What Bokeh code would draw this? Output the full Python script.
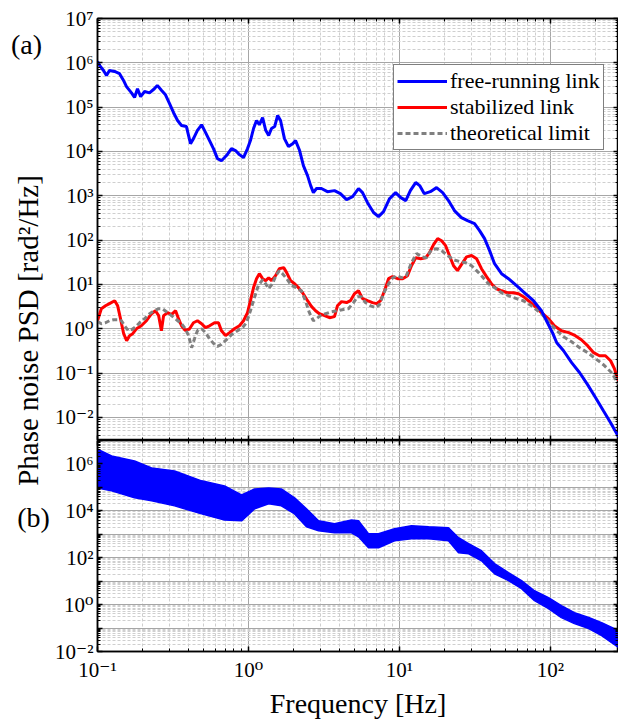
import math
from bokeh.plotting import figure
from bokeh.models import (Range1d, LogAxis, FixedTicker, CustomJSTickFormatter,
                          Legend, LegendItem, Label)
from bokeh.layouts import row, column
from bokeh.embed import file_html
from bokeh.resources import INLINE

FONT = "Liberation Serif, Times New Roman, DejaVu Serif, serif"

# ---------------- data: panel (a) ----------------
free_f = [0.100, 0.1047, 0.1096, 0.1147, 0.120, 0.1297, 0.140, 0.1487, 0.1556, 0.168, 0.176, 0.184,
          0.193, 0.205, 0.221, 0.238, 0.249, 0.265, 0.282, 0.300, 0.319, 0.339, 0.360, 0.388, 0.413,
          0.432, 0.459, 0.489, 0.519, 0.552, 0.586, 0.623, 0.662, 0.715, 0.771, 0.820, 0.871, 0.927,
          0.985, 1.03, 1.08, 1.13, 1.18, 1.24, 1.30, 1.36, 1.42, 1.49, 1.56, 1.63, 1.73, 1.84, 1.96,
          2.05, 2.18, 2.31, 2.46, 2.58, 2.69, 2.82, 3.04, 3.33, 3.71, 4.06, 4.46, 4.89, 5.35, 5.69,
          6.14, 6.73, 7.26, 7.84, 8.59, 9.42, 10.2, 11.0, 11.8, 12.8, 13.6, 14.6, 16.0, 17.6, 19.3,
          21.1, 23.1, 25.7, 28.2, 31.4, 33.9, 36.6, 39.5, 42.6, 47.4, 52.7, 59.6, 67.3, 77.1, 87.1,
          95.5, 103, 110, 122, 138, 156, 176, 199, 224, 250, 282]
free_psd = [1.07e6, 8.2e5, 6.7e5, 5.2e5, 6.7e5, 6.4e5, 5.7e5, 4.0e5, 2.9e5, 2.1e5, 1.65e5, 2.6e5,
            1.73e5, 2.25e5, 2.1e5, 2.6e5, 3.1e5, 2.4e5, 1.9e5, 1.2e5, 7.5e4, 5.0e4, 3.85e4, 3.65e4,
            1.5e4, 1.95e4, 3.0e4, 4.0e4, 2.7e4, 1.76e4, 1.16e4, 6.9e3, 6.2e3, 8.1e3, 1.16e4, 1.05e4,
            8.5e3, 7.3e3, 1.16e4, 1.76e4, 3.3e4, 5.0e4, 4.0e4, 5.8e4, 3.0e4, 2.3e4, 3.3e4, 3.65e4,
            6.5e4, 5.0e4, 1.95e4, 1.29e4, 1.5e4, 1.76e4, 1.05e4, 4.8e3, 2.86e3, 1.7e3, 1.18e3, 1.46e3,
            1.46e3, 1.24e3, 1.31e3, 1.12e3, 820, 960, 1.46e3, 1.18e3, 700, 420, 340, 440, 860, 1.18e3,
            910, 780, 1.31e3, 1.99e3, 1.7e3, 1.12e3, 1.24e3, 1.53e3, 1.18e3, 780, 464, 322, 275, 236,
            164, 108, 58, 29.4, 17.5, 13.5, 9.4, 6.5, 4.3, 2.56, 1.37, 0.82, 0.485, 0.32, 0.172,
            0.102, 0.055, 0.0279, 0.0142, 0.0076, 0.00367]

stab_f = [0.100, 0.106, 0.113, 0.120, 0.130, 0.136, 0.142, 0.149, 0.156, 0.163, 0.171, 0.181, 0.195,
          0.211, 0.228, 0.242, 0.254, 0.265, 0.274, 0.291, 0.309, 0.329, 0.344, 0.360, 0.382, 0.407,
          0.432, 0.459, 0.489, 0.519, 0.552, 0.596, 0.633, 0.662, 0.705, 0.749, 0.807, 0.871, 0.927,
          0.985, 1.03, 1.08, 1.13, 1.18, 1.24, 1.30, 1.36, 1.42, 1.51, 1.60, 1.71, 1.79, 1.90, 2.02,
          2.14, 2.28, 2.46, 2.61, 2.78, 2.95, 3.19, 3.44, 3.71, 3.88, 4.13, 4.46, 4.73, 5.03, 5.35,
          5.69, 6.14, 6.62, 7.04, 7.48, 7.96, 8.46, 8.99, 9.71, 10.5, 11.3, 12.0, 12.8, 13.8, 14.9,
          15.8, 16.8, 17.9, 19.0, 20.2, 21.4, 22.8, 24.2, 25.7, 27.8, 30.0, 32.4, 34.9, 37.7, 40.6,
          43.9, 47.4, 51.9, 56.8, 61.4, 66.2, 71.5, 78.3, 87.1, 97.0, 106, 118, 132, 146, 160, 176,
          193, 211, 231, 250, 265, 282]
stab_psd = [1.52, 2.84, 3.3, 3.7, 4.3, 3.3, 1.69, 0.775, 0.54, 0.70, 0.775, 1.0, 1.17, 1.52, 2.19,
            2.56, 1.98, 0.906, 1.98, 2.31, 2.08, 2.56, 1.69, 1.17, 0.906, 1.0, 1.37, 1.52, 1.30, 1.06,
            1.17, 1.37, 1.37, 0.906, 0.70, 0.82, 1.0, 1.17, 1.52, 2.31, 4.3, 8.5, 13.5, 17.5, 13.5,
            12.2, 14.2, 12.2, 15.8, 22.7, 24.0, 18.5, 12.2, 10.4, 8.5, 6.5, 4.3, 3.2, 2.56, 2.19, 1.98,
            1.78, 1.88, 3.3, 4.1, 3.9, 4.3, 6.2, 7.2, 4.78, 4.3, 3.9, 3.7, 4.3, 7.2, 13.5, 15.0, 13.5,
            13.5, 15.8, 26.5, 40.0, 38.0, 40.0, 52.0, 79.0, 108, 97.0, 75.0, 45.0, 26.5, 20.5, 28.0,
            42.0, 45.0, 38.0, 22.7, 15.0, 10.4, 8.0, 7.2, 6.5, 6.5, 6.2, 5.3, 4.3, 3.3, 2.31, 1.69,
            1.17, 0.906, 0.82, 0.70, 0.567, 0.416, 0.289, 0.247, 0.247, 0.19, 0.126, 0.067]

theo_f = [0.100, 0.106, 0.113, 0.120, 0.128, 0.136, 0.144, 0.153, 0.160, 0.168, 0.179, 0.190, 0.205,
          0.221, 0.238, 0.254, 0.269, 0.286, 0.309, 0.334, 0.360, 0.382, 0.401, 0.420, 0.439, 0.459,
          0.489, 0.519, 0.552, 0.586, 0.623, 0.662, 0.715, 0.771, 0.846, 0.912, 0.970, 1.03, 1.10,
          1.16, 1.24, 1.30, 1.36, 1.44, 1.53, 1.60, 1.68, 1.79, 1.93, 2.08, 2.24, 2.38, 2.53, 2.69,
          2.82, 3.00, 3.24, 3.55, 3.88, 4.26, 4.59, 4.96, 5.27, 5.60, 5.95, 6.43, 6.93, 7.37, 7.84,
          8.33, 8.86, 9.56, 10.3, 11.1, 12.0, 13.0, 14.0, 15.1, 16.3, 17.6, 19.0, 20.8, 22.8, 25.0,
          27.4, 30.0, 32.4, 34.9, 38.8, 42.6, 47.4, 52.7, 59.6, 66.2, 74.8, 87.1, 98.4, 110, 122,
          138, 156, 176, 199, 224, 254, 282]
theo_psd = [1.45, 1.30, 1.37, 1.52, 1.60, 1.60, 1.52, 1.11, 0.906, 0.955, 1.11, 1.37, 1.69, 2.19,
            2.56, 2.84, 2.84, 2.43, 1.98, 1.60, 1.30, 1.0, 0.70, 0.374, 0.597, 0.906, 1.0, 0.82, 0.597,
            0.468, 0.40, 0.445, 0.567, 0.736, 0.906, 1.06, 1.37, 2.56, 5.3, 9.4, 12.8, 10.4, 8.0,
            10.4, 16.6, 20.5, 17.5, 13.5, 9.4, 8.5, 7.2, 4.3, 2.31, 1.52, 1.69, 1.98, 2.19, 2.43, 2.56,
            2.73, 2.84, 3.9, 5.3, 5.3, 3.9, 3.3, 3.0, 3.5, 6.2, 9.4, 13.5, 15.8, 14.2, 15.8, 31.0,
            50.0, 42.0, 40.0, 61.0, 64.0, 58.0, 45.0, 36.0, 33.0, 31.0, 26.5, 20.5, 15.8, 10.4, 8.5,
            6.5, 5.6, 4.78, 4.3, 3.3, 2.19, 1.37, 0.906, 0.66, 0.51, 0.374, 0.289, 0.211, 0.155,
            0.102, 0.057]

# ---------------- data: panel (b) (envelope of the ensemble) ----------------
ens_f = [0.100, 0.124, 0.176, 0.228, 0.324, 0.489, 0.694, 0.899, 1.10, 1.36, 1.65, 2.02, 2.42, 2.91,
         3.71, 4.81, 5.35, 6.23, 7.26, 9.27, 12.0, 15.6, 21.1, 24.6, 28.7, 34.9, 42.6, 52.7, 64.3,
         78.3, 97.0, 118, 144, 179, 218, 282]
ens_upper = [4.3e6, 2.2e6, 1.34e6, 6.8e5, 5.0e5, 1.9e5, 1.16e5, 4.8e4, 8.6e4, 9.5e4, 8.6e4, 3.6e4,
             1.22e4, 3.75e3, 2.8e3, 4.1e3, 3.75e3, 1.05e3, 1.05e3, 1.71e3, 2.3e3, 2.08e3, 1.89e3,
             710, 395, 199, 56, 23, 10.5, 3.9, 1.99, 0.91, 0.457, 0.28, 0.171, 0.078]
ens_lower = [9.5e4, 7.1e4, 3.6e4, 2.67e4, 1.63e4, 7.4e3, 4.1e3, 3.75e3, 1.22e4, 1.99e4, 1.63e4,
             7.4e3, 2.08e3, 1.41e3, 1.16e3, 1.16e3, 780, 267, 267, 530, 640, 640, 530, 163, 148,
             74, 20.8, 10.5, 4.8, 1.48, 0.676, 0.28, 0.155, 0.095, 0.048, 0.0148]

# ---------------- axes ticks ----------------
x_decades = [0.1, 1, 10, 100]
ya_decades = [1e-2, 1e-1, 1e0, 1e1, 1e2, 1e3, 1e4, 1e5, 1e6, 1e7]
yb_decades = [1e-2, 1e-1, 1e0, 1e1, 1e2, 1e3, 1e4, 1e5, 1e6, 1e7]


def minors(decs, lo, hi):
    out = []
    for d in decs + [decs[0] / 10.0]:
        for k in range(2, 10):
            v = d * k
            if lo <= v <= hi:
                out.append(v)
    return sorted(out)


X_LO, X_HI = 0.1, 282.0
YA_LO, YA_HI = 10 ** -2.52, 1e7
YB_LO, YB_HI = 1e-2, 1e7

SUP_JS = """
const sup = {'0':'\u2070','1':'\u00b9','2':'\u00b2','3':'\u00b3','4':'\u2074','5':'\u2075',
             '6':'\u2076','7':'\u2077','8':'\u2078','9':'\u2079','-':'\u207b'};
const e = Math.round(Math.log10(tick));
if (MODE === 2) { return ''; }
if (MODE === 1 && (e % 2 !== 0)) { return ''; }
return '10' + String(e).split('').map(c => sup[c]).join('');
"""


def fmt(mode=0):
    return CustomJSTickFormatter(code=SUP_JS.replace("MODE", str(mode)))


def style_axis(ax, show_labels, ticker, formatter):
    ax.ticker = ticker
    ax.formatter = formatter
    ax.axis_line_color = "black"
    ax.axis_line_width = 1.5
    ax.major_tick_in = 5
    ax.major_tick_out = 0
    ax.minor_tick_in = 3
    ax.minor_tick_out = 0
    ax.major_tick_line_color = "black"
    ax.minor_tick_line_color = "black"
    ax.major_tick_line_width = 1.5
    ax.minor_tick_line_width = 1
    ax.major_label_text_font = FONT
    ax.major_label_text_color = "black"
    if show_labels:
        ax.major_label_text_font_size = "21px"
        ax.major_label_standoff = 4
    else:
        ax.major_label_text_font_size = "1px"
        ax.major_label_standoff = 0


def make_panel(y_lo, y_hi, y_decs, frame_h, border_top, border_bottom, x_labels, only_even):
    p = figure(x_axis_type="log", y_axis_type="log",
               x_range=x_range, y_range=Range1d(y_lo, y_hi),
               frame_width=521, frame_height=frame_h,
               min_border_left=44, min_border_right=0,
               min_border_top=border_top, min_border_bottom=border_bottom,
               toolbar_location=None, output_backend="svg",
               background_fill_color="white", border_fill_color="white")
    xminor = minors(x_decades, X_LO, X_HI)
    yminor = minors(y_decs, y_lo, y_hi)
    bottom_ax = p.below[0]
    left_ax = p.left[0]
    style_axis(bottom_ax, x_labels, FixedTicker(ticks=x_decades, minor_ticks=xminor),
               fmt(0 if x_labels else 2))
    style_axis(left_ax, True, FixedTicker(ticks=y_decs, minor_ticks=yminor),
               fmt(1 if only_even else 0))
    top_ax = LogAxis()
    style_axis(top_ax, False, FixedTicker(ticks=x_decades, minor_ticks=xminor), fmt(2))
    right_ax = LogAxis()
    style_axis(right_ax, False, FixedTicker(ticks=y_decs, minor_ticks=yminor), fmt(2))
    p.add_layout(top_ax, "above")
    p.add_layout(right_ax, "right")
    for g in (p.xgrid[0], p.ygrid[0]):
        g.grid_line_color = "#a6a6a6"
        g.grid_line_width = 1
        g.minor_grid_line_color = "#cfcfcf"
        g.minor_grid_line_dash = "3 2"
        g.minor_grid_line_width = 1
    p.outline_line_color = "black"
    p.outline_line_width = 1.5
    return p, bottom_ax


x_range = Range1d(X_LO, X_HI)

# ---------------- panel (a) ----------------
top, _ = make_panel(YA_LO, YA_HI, ya_decades, 422, 18, 0, False, False)
r_stab = top.line(stab_f, stab_psd, line_color="#ff0000", line_width=3)
r_theo = top.line(theo_f, theo_psd, line_color="#808080", line_width=3, line_dash="5 3")
r_free = top.line(free_f, free_psd, line_color="#0000ff", line_width=3)

legend = Legend(items=[LegendItem(label="free-running link", renderers=[r_free]),
                       LegendItem(label="stabilized link", renderers=[r_stab]),
                       LegendItem(label="theoretical limit", renderers=[r_theo])],
                location=(296, 290))
legend.label_text_font = FONT
legend.label_text_font_size = "22px"
legend.label_text_color = "black"
legend.glyph_width = 50
legend.glyph_height = 20
legend.label_height = 26
legend.label_standoff = 3
legend.spacing = 0
legend.padding = 3
legend.margin = 0
legend.border_line_color = "black"
legend.border_line_width = 1
legend.background_fill_color = "white"
legend.background_fill_alpha = 1
top.add_layout(legend)

# ---------------- panel (b) ----------------
bot, bot_x = make_panel(YB_LO, YB_HI, yb_decades, 211, 0, 70, True, True)
bot.varea(x=ens_f, y1=ens_lower, y2=ens_upper, fill_color="#0000ff", fill_alpha=1)
bot.line(ens_f, ens_upper, line_color="#0000ff", line_width=1.5)
bot.line(ens_f, ens_lower, line_color="#0000ff", line_width=1.5)
bot_x.axis_label = "Frequency [Hz]"
bot_x.axis_label_text_font = FONT
bot_x.axis_label_text_font_size = "28px"
bot_x.axis_label_text_font_style = "normal"
bot_x.axis_label_text_color = "black"
bot_x.axis_label_standoff = 3
bot_x.major_label_standoff = 6

# ---------------- left strip: y label and panel tags ----------------
lab = figure(width=52, height=721, x_range=Range1d(0, 52), y_range=Range1d(0, 721),
             min_border=0, toolbar_location=None, output_backend="svg",
             x_axis_location=None, y_axis_location=None)
lab.outline_line_color = None
lab.xgrid.visible = False
lab.ygrid.visible = False
lab.add_layout(Label(x=27, y=721 - 330, text="Phase noise PSD [rad\u00b2/Hz]", angle=math.pi / 2,
                     text_font=FONT, text_font_size="29px", text_align="center",
                     text_baseline="middle", text_color="black"))
lab.add_layout(Label(x=26, y=721 - 44, text="(a)", text_font=FONT, text_font_size="28px",
                     text_align="center", text_baseline="middle", text_color="black"))
lab.add_layout(Label(x=33, y=721 - 517, text="(b)", text_font=FONT, text_font_size="28px",
                     text_align="center", text_baseline="middle", text_color="black"))

layout = row(lab, column(top, bot))
open("out.html", "w").write(file_html(layout, INLINE))
